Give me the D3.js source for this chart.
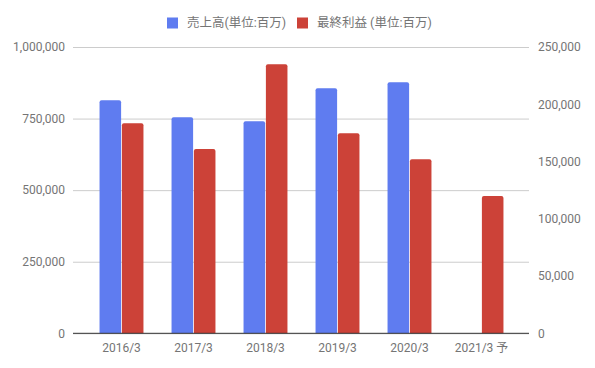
<!DOCTYPE html>
<html><head><meta charset="utf-8">
<script src="https://cdn.jsdelivr.net/npm/d3@7"></script>
<style>body{margin:0;background:#fff;} text{font-family:Roboto,"Noto Sans CJK JP",sans-serif;}</style>
</head><body>
<svg id="c" width="595" height="368"></svg>
<script>
(function(){
const categories = ["2016/3","2017/3","2018/3","2019/3","2020/3","2021/3 予"];
const sales = [814000, 755000, 741000, 856000, 877000, null];
const profit = [183500, 161000, 235000, 174700, 152000, 120000];
const leftTicks = [0, 250000, 500000, 750000, 1000000];
const rightTicks = [0, 50000, 100000, 150000, 200000, 250000];
const seriesNames = ["売上高(単位:百万)", "最終利益 (単位:百万)"];
const colors = ["#5f7cf0", "#cc4238"];

const svg = d3.select("#c");
const pL = 73, pR = 529, pT = 47, pB = 333.3;
const x = d3.scaleBand().domain(categories).range([85.5, 517.5]).paddingInner(0.39).paddingOuter(0.195);
const yL = d3.scaleLinear().domain([0, 1000000]).range([pB, pT]);
const yR = d3.scaleLinear().domain([0, 250000]).range([pB, pT]);
const fmt = d3.format(",");

const gL = svg.append("g").attr("transform", `translate(${pL},0)`)
  .call(d3.axisLeft(yL).tickValues(leftTicks).tickFormat(fmt).tickSize(-(pR-pL)).tickPadding(8));
gL.select(".domain").remove();
gL.selectAll(".tick line").attr("stroke", "#cccccc");
gL.selectAll(".tick text").attr("fill", "#757575").style("font-size", "12px");

const gR = svg.append("g").attr("transform", `translate(${pR},0)`)
  .call(d3.axisRight(yR).tickValues(rightTicks).tickFormat(fmt).tickSize(0).tickPadding(9));
gR.select(".domain").remove();
gR.selectAll(".tick text").attr("fill", "#757575").style("font-size", "12px");

function roundTop(x0, y0, w, h, r){
  return `M${x0},${y0+h}V${y0+r}Q${x0},${y0} ${x0+r},${y0}H${x0+w-r}Q${x0+w},${y0} ${x0+w},${y0+r}V${y0+h}Z`;
}

const bw = x.bandwidth();
const sub = d3.scaleBand().domain([0,1]).range([0, bw]).paddingInner(0.035);
const bars = svg.append("g");
bars.selectAll("path.s").data(categories.map((c,i)=>({c, v: sales[i]})).filter(d=>d.v!=null))
  .join("path").attr("class","s").attr("fill", colors[0])
  .attr("d", d => roundTop(x(d.c)+sub(0), yL(d.v), sub.bandwidth(), pB - yL(d.v), 2));
bars.selectAll("path.p").data(categories.map((c,i)=>({c, v: profit[i]})).filter(d=>d.v!=null))
  .join("path").attr("class","p").attr("fill", colors[1])
  .attr("d", d => roundTop(x(d.c)+sub(1), yR(d.v), sub.bandwidth(), pB - yR(d.v), 2));

svg.append("line").attr("x1", pL).attr("x2", pR).attr("y1", pB).attr("y2", pB)
  .attr("stroke", "#333").attr("stroke-width", 1);

const gX = svg.append("g").attr("transform", `translate(0,${pB})`)
  .call(d3.axisBottom(x).tickSize(0).tickPadding(10));
gX.select(".domain").remove();
gX.selectAll(".tick text").attr("fill", "#757575").style("font-size", "12px");

const leg = svg.append("g");
const legX = [167, 297];
seriesNames.forEach((n,i)=>{
  leg.append("rect").attr("x", legX[i]).attr("y", 17.5).attr("width", 11).attr("height", 11).attr("fill", colors[i]);
  leg.append("text").attr("x", legX[i]+20).attr("y", 23).attr("dy", "0.35em")
    .attr("fill", "#757575").style("font-size", "12.5px").text(n);
});
})();
</script>
</body></html>
